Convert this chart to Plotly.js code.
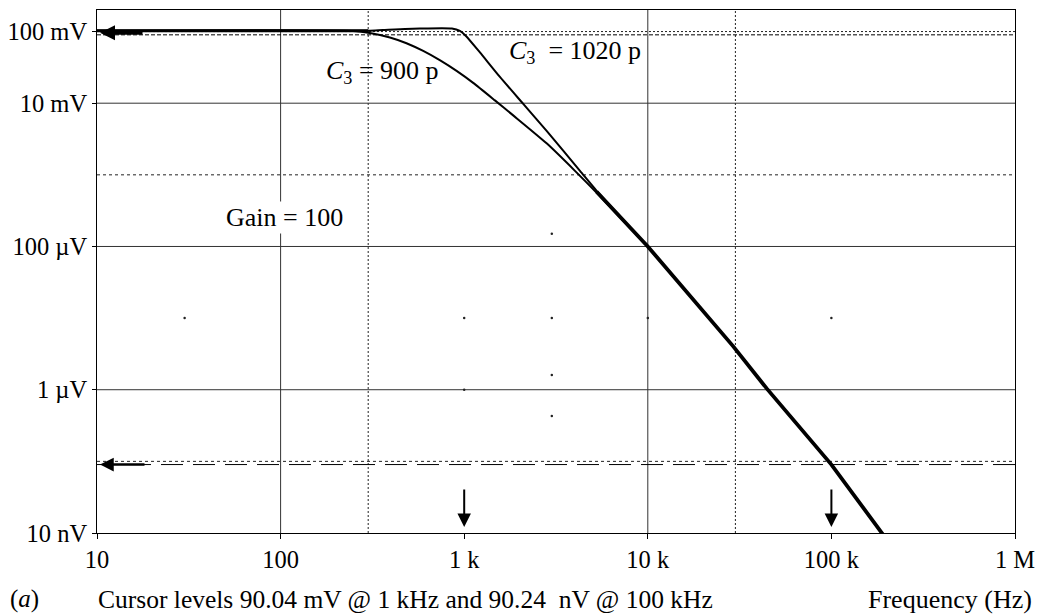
<!DOCTYPE html>
<html><head><meta charset="utf-8">
<script src="https://cdn.plot.ly/plotly-3.0.1.min.js"></script>
<style>html,body{margin:0;padding:0;background:#fff}#chart{width:1045px;height:614px}</style>
</head><body><div id="chart"></div>
<script>
// ---- data (frequency in Hz, output in volts) ----
const freq900  = [10, 250, 306, 394, 485, 598, 740, 909, 1119, 1470, 1849, 2812, 4011, 5266, 10000];
const volt900  = [0.103, 0.102, 0.0956, 0.0827, 0.0687, 0.0536, 0.0395, 0.0282, 0.0192, 0.01094, 0.00676, 0.00275, 0.001137, 0.000561, 0.0001];
const freq1020 = [10, 300, 360, 574, 857, 948, 1022, 1218, 1565, 2097, 2812, 4272, 5266, 10000];
const volt1020 = [0.103, 0.103, 0.1052, 0.1104, 0.1104, 0.1019, 0.0868, 0.0511, 0.02327, 0.00978, 0.00411, 0.001137, 0.000598, 0.0001];
const freqFlat = [10, 300];
const voltFlat = [0.103, 0.103];
const freqTail = [5266, 10000, 29200, 44500, 100000, 188000, 200000];
const voltTail = [0.00058, 0.0001, 4.03e-6, 1.035e-6, 9.024e-8, 1.0e-8, 8.1e-9];
const cursorFreqs  = [1000, 100000];
const cursorLevels = [90.04e-3, 90.24e-9];
const xTickVals = [10, 100, 1000, 10000, 100000, 1000000];
const xTickText = ['10', '100', '1 k', '10 k', '100 k', '1 M'];
const yTickVals = [1e-8, 1e-6, 1e-4, 1e-2, 1e-1];
const yTickText = ['10 nV', '1 µV', '100 µV', '10 mV', '100 mV'];
const xGridSolid  = [100, 10000];
const xGridDotted = [300, 30000];
const yGridSolid  = [1e-2, 1e-4, 1e-6];
const yGridDotted = [1e-3, 1e-7];
const yGridTop    = [1e-1];
const dotFreq = [30, 1000, 3000, 10000, 100000, 3000, 3000, 3000, 1000];
const dotVolt = [1e-5, 1e-5, 1e-5, 1e-5, 1e-5, 1.5e-4, 1.6e-6, 4.3e-7, 1e-6];

const X0 = 10, X1 = 1e6, Y0 = 1e-8, Y1 = 0.2;
const FONT = 'Liberation Serif, Times New Roman, serif';
const traces = [];
function line(xs, ys, color, width, dash, shape) {
  traces.push({x: xs, y: ys, type: 'scatter', mode: 'lines', hoverinfo: 'skip', showlegend: false,
    line: {color: color, width: width, dash: dash || 'solid', shape: shape || 'linear', smoothing: 0.6}});
}
xGridSolid.forEach(v => line([v, v], [Y0, Y1], '#333', 1));
xGridDotted.forEach(v => line([v, v], [Y0, Y1], '#222', 1, '2px,2px'));
yGridSolid.forEach(v => line([X0, X1], [v, v], '#333', 1));
yGridDotted.forEach(v => line([X0, X1], [v, v], '#222', 1, '3px,3px'));
yGridTop.forEach(v => line([X0, X1], [v, v], '#222', 1, '2px,2px'));
line([X0, X1], [cursorLevels[0], cursorLevels[0]], '#000', 1, '4px,2px');
line([X0, X1], [cursorLevels[1], cursorLevels[1]], '#000', 1, '22px,10px');
traces.push({x: dotFreq, y: dotVolt, type: 'scatter', mode: 'markers', hoverinfo: 'skip', showlegend: false,
  marker: {color: '#222', size: 2.5}});
line(freq900, volt900, '#000', 2, 'solid', 'spline');
line(freq1020, volt1020, '#000', 2, 'solid', 'spline');
line(freqFlat, voltFlat, '#000', 3);
line(freqTail, voltTail, '#000', 3.8);

const px = p => (p - 97) / 918;           // pixel x -> paper
const py = p => (533 - p) / 523;          // pixel y -> paper
function label(text, x, y, size, xanchor, extra) {
  return Object.assign({text: text, xref: 'paper', yref: 'paper', x: px(x), y: py(y), showarrow: false,
    xanchor: xanchor || 'center', yanchor: 'middle', font: {size: size}}, extra || {});
}
const annotations = [
  label('Gain = 100', 284, 217, 26, 'center', {bgcolor: '#fff', borderpad: 1}),
  label('<i>C</i><sub>3</sub> = 900 p', 382, 72, 26),
  label('<i>C</i><sub>3</sub>  = 1020 p', 575, 52, 26),
  label('(<i>a</i>)', 24, 599, 25),
  label('Cursor levels 90.04 mV @ 1 kHz and 90.24\u00A0 nV @ 100 kHz', 96, 599, 25.5, 'left'),
  label('Frequency (Hz)', 1034, 599, 26, 'right'),
];
// cursor arrows
annotations.push({text: '', xref: 'paper', yref: 'y', x: px(100), y: Math.log10(cursorLevels[0]) + 0.03,
  showarrow: true, ax: 44, ay: 0, arrowhead: 2, arrowwidth: 4, arrowsize: 0.75, arrowcolor: '#000', standoff: 0});
annotations.push({text: '', xref: 'paper', yref: 'y', x: px(100), y: Math.log10(cursorLevels[1]),
  showarrow: true, ax: 46, ay: 0, arrowhead: 2, arrowwidth: 2.5, arrowsize: 1.1, arrowcolor: '#000', standoff: 0});
cursorFreqs.forEach(f => annotations.push({text: '', xref: 'x', yref: 'paper', x: Math.log10(f), y: py(527),
  showarrow: true, ax: 0, ay: -39, arrowhead: 2, arrowwidth: 2, arrowsize: 1.35, arrowcolor: '#000', standoff: 0}));

const layout = {
  width: 1045, height: 614,
  margin: {l: 97, r: 30, t: 10, b: 81},
  paper_bgcolor: '#fff', plot_bgcolor: '#fff',
  font: {family: FONT, size: 24, color: '#000'},
  showlegend: false,
  xaxis: {type: 'log', range: [Math.log10(X0), Math.log10(X1)], tickvals: xTickVals, ticktext: xTickText,
    showgrid: false, zeroline: false, showline: true, mirror: true, linecolor: '#000', linewidth: 1,
    ticks: 'outside', ticklen: 5, tickcolor: '#000', tickfont: {family: FONT, size: 24.5}},
  yaxis: {type: 'log', range: [Math.log10(Y0), Math.log10(Y1)], tickvals: yTickVals, ticktext: yTickText,
    showgrid: false, zeroline: false, showline: true, mirror: true, linecolor: '#000', linewidth: 1,
    ticks: 'outside', ticklen: 4, tickcolor: '#000', tickfont: {family: FONT, size: 24.5}},
  annotations: annotations
};
Plotly.newPlot('chart', traces, layout, {displayModeBar: false, staticPlot: true});
</script></body></html>
